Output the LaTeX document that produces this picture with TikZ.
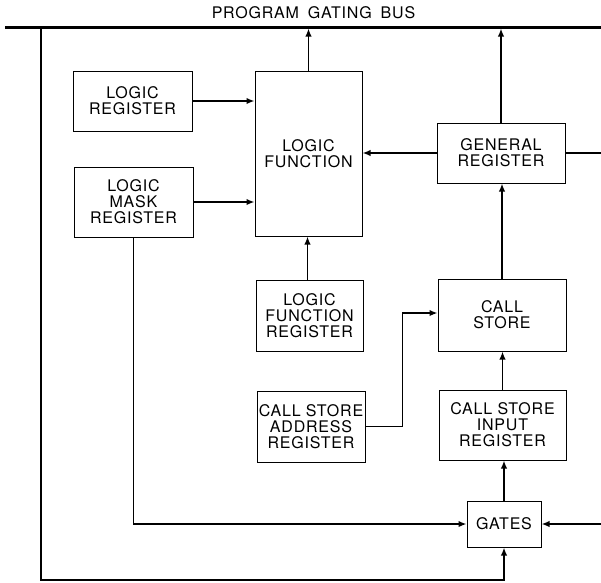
\documentclass[tikz,border=0pt]{standalone}
\usepackage{fontspec}
\setmainfont{TeX Gyre Heros}[LetterSpace=5.0]
\usetikzlibrary{arrows.meta,calc}
\begin{document}
\begin{tikzpicture}[x=1pt,y=-1pt,
  lbl/.style={font=\fontsize{16}{16}\selectfont},
  box/.style={draw,line width=1pt,inner sep=0pt,align=center,lbl},
  conn/.style={line width=1.6pt},
  arr/.style={conn,-{Latex[length=8pt,width=6.5pt]}}]
\useasboundingbox (0,0) rectangle (601,582);
% bus
\coordinate (busL) at (5,27);
\coordinate (busR) at (601,27);
\coordinate (busB) at (0,28.5);
\draw[line width=3pt] (busL) -- (busR);
\node[lbl,inner sep=0pt] (title) at (313.5,13) {PROGRAM\hspace{9pt}GATING\hspace{9pt}BUS};
% boxes
\node[box,minimum width=119pt,minimum height=60pt] (LR) at (132.5,101) {LOGIC\\REGISTER};
\node[box,minimum width=119pt,minimum height=70pt] (LMR) at (133.5,202) {LOGIC\\MASK\\REGISTER};
\node[box,minimum width=107pt,minimum height=165pt] (LF) at (308.5,153.5) {LOGIC\\FUNCTION};
\node[box,minimum width=128pt,minimum height=60pt] (GR) at (501,153) {GENERAL\\REGISTER};
\node[box,minimum width=107pt,minimum height=71pt] (LFR) at (309.5,315.5) {LOGIC\\FUNCTION\\REGISTER};
\node[box,minimum width=128pt,minimum height=72pt] (CS) at (502,315) {CALL\\STORE};
\node[box,minimum width=108pt,minimum height=71pt] (CSAR) at (311,426.5) {CALL STORE\\ADDRESS\\REGISTER};
\node[box,minimum width=127pt,minimum height=70pt] (CSIR) at (502.5,425) {CALL STORE\\INPUT\\REGISTER};
\node[box,minimum width=74pt,minimum height=46pt] (GATES) at (504,524) {GATES};
% free ends
\coordinate (grOut) at (601,153);
\coordinate (gIn) at (601,524);
\coordinate (loopTop) at (41,27);
\coordinate (loopBL) at (41,580);
% connectors
\draw[arr] (LF.north) -- (LF.north |- busB);
\draw[arr] (GR.north) -- (GR.north |- busB);
\draw[arr] (LR.east) -- (LR.east -| LF.west);
\draw[arr] (LMR.east) -- (LMR.east -| LF.west);
\draw[arr] (GR.west) -- (GR.west -| LF.east);
\draw[conn] (GR.east) -- (grOut);
\draw[arr] ($(LFR.north)+(-2,0)$) -- ($(LFR.north |- LF.south)+(-2,0)$);
\draw[arr] (CS.north) -- (CS.north |- GR.south);
\draw[arr] (CSAR.east) -- ++(37,0) |- ($(CS.west)+(0,-2)$);
\draw[arr] (CSIR.north) -- (CSIR.north |- CS.south);
\draw[arr] (GATES.north) -- (GATES.north |- CSIR.south);
\draw[arr] (LMR.south) |- (GATES.west);
\draw[arr] (gIn) -- (GATES.east);
\draw[arr] (loopTop) -- (loopBL) -| (GATES.south);
\end{tikzpicture}
\end{document}
